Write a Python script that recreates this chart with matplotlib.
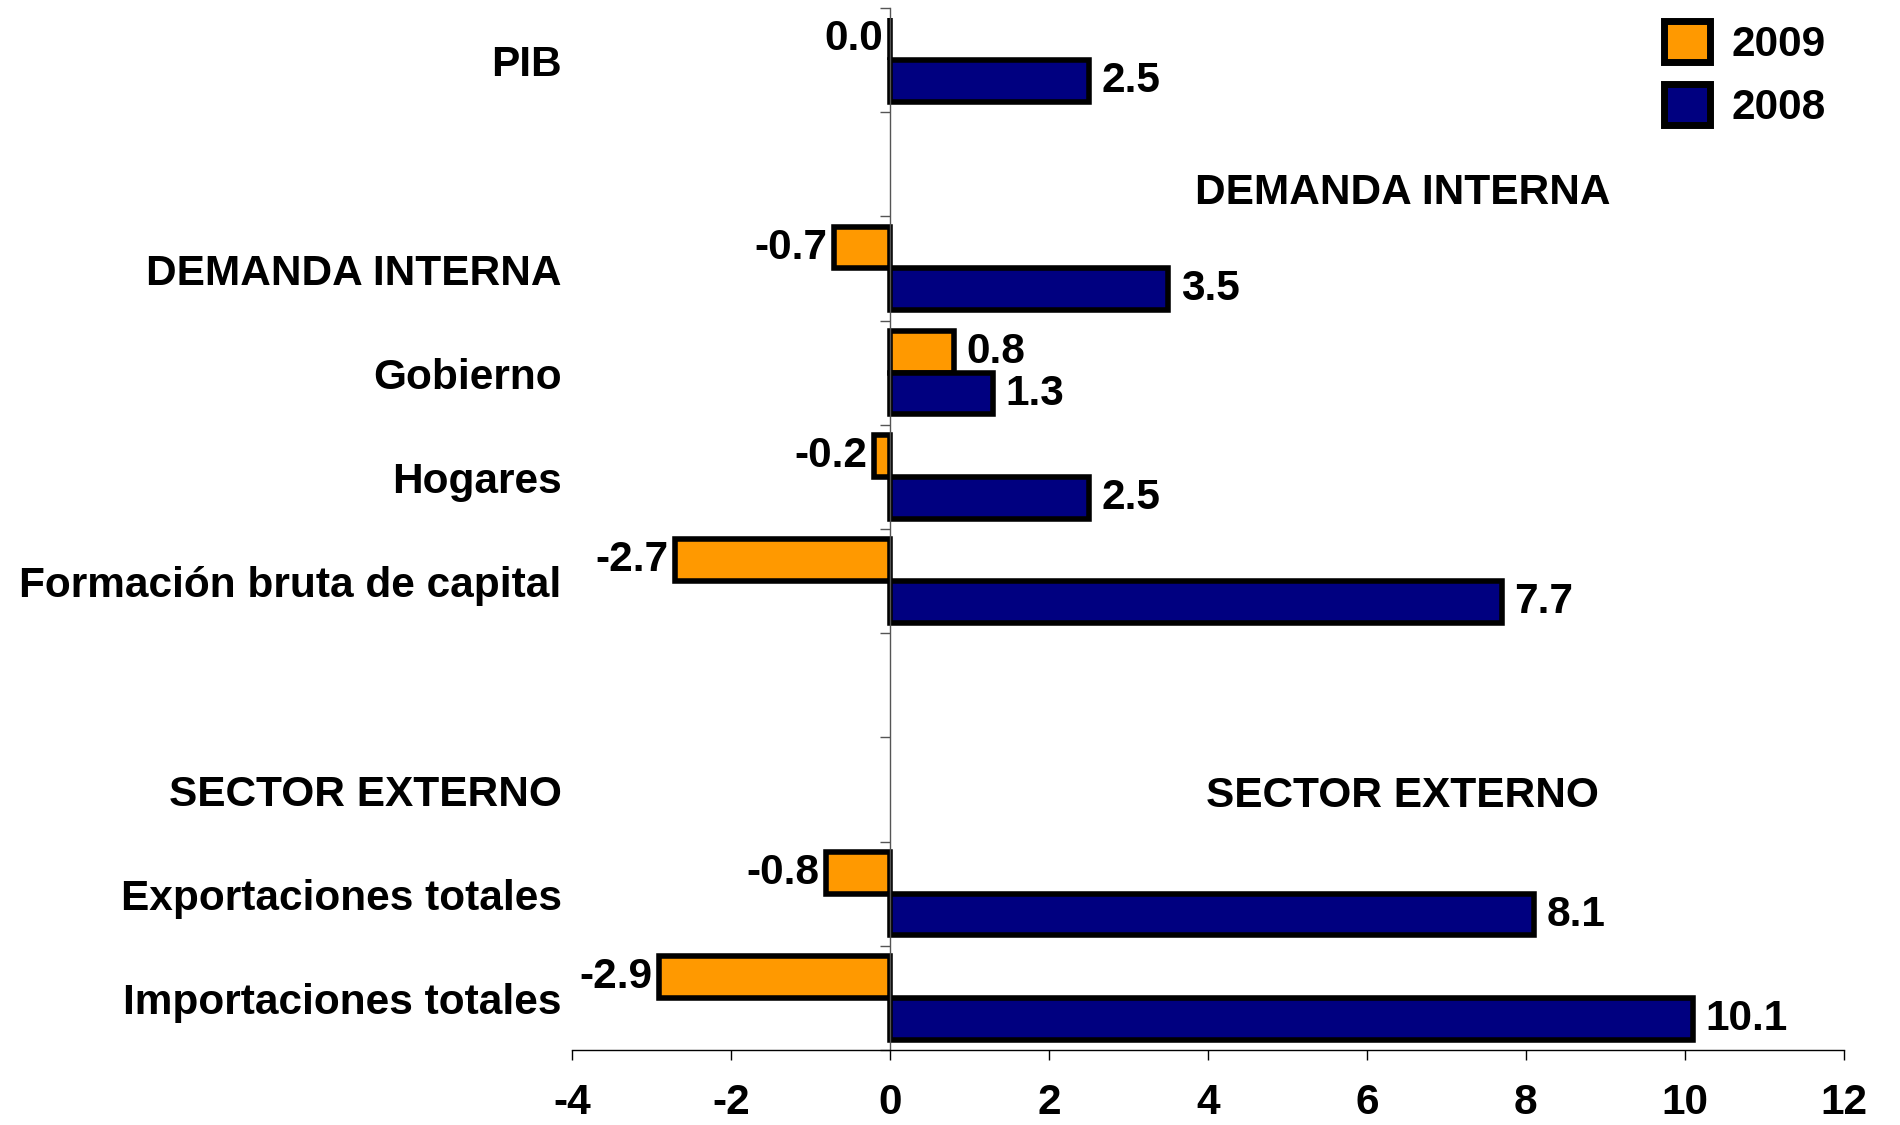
import numpy as np
import matplotlib
matplotlib.use('Agg')
import matplotlib.pyplot as plt
from matplotlib.transforms import blended_transform_factory

plt.rcParams['font.family'] = ['Liberation Sans', 'DejaVu Sans']
plt.rcParams['font.weight'] = 'bold'
plt.rcParams['axes.unicode_minus'] = False

# data
categories = ['PIB', '', 'DEMANDA INTERNA', 'Gobierno', 'Hogares',
              'Formación bruta de capital', '', 'SECTOR EXTERNO',
              'Exportaciones totales', 'Importaciones totales']
v2009 = [0.0, np.nan, -0.7, 0.8, -0.2, -2.7, np.nan, np.nan, -0.8, -2.9]
v2008 = [2.5, np.nan, 3.5, 1.3, 2.5, 7.7, np.nan, np.nan, 8.1, 10.1]
side_labels = ['DEMANDA INTERNA', 'SECTOR EXTERNO']
side_pos = [1.28, 7.06]

orange = '#FF9900'
navy = '#000080'
fs = 30.5

fig = plt.figure(figsize=(19, 11.25), dpi=100)
ax = fig.add_axes([0.301, 0.0667, 0.6695, 0.9262])

y = np.arange(len(categories))
h = 0.4
lw = 4
ax.barh(y - h / 2, v2009, height=h, color=orange, edgecolor='black', linewidth=lw, label='2009')
ax.barh(y + h / 2, v2008, height=h, color=navy, edgecolor='black', linewidth=lw, label='2008')

# value labels
for vals, off in [(v2009, -h / 2), (v2008, h / 2)]:
    for i, v in enumerate(vals):
        if np.isnan(v):
            continue
        if v > 0:
            ax.annotate(f'{v:.1f}', (v, i + off), xytext=(9, 0), textcoords='offset points',
                        ha='left', va='center', fontsize=fs, fontweight='bold')
        else:
            ax.annotate(f'{v:.1f}', (v, i + off), xytext=(-5, 0), textcoords='offset points',
                        ha='right', va='center', fontsize=fs, fontweight='bold')

ax.set_xlim(-4, 12)
ax.set_ylim(len(categories) - 0.5, -0.5)
ax.set_xticks(np.arange(-4, 13, 2))
ax.tick_params(axis='x', length=7, width=1, pad=17, labelsize=fs)
for t in ax.get_xticklabels():
    t.set_fontweight('bold')

ax.set_yticks(np.arange(len(categories) + 1) - 0.5)
ax.set_yticklabels([])
ax.tick_params(axis='y', length=7, width=1, color='#555555')

ax.spines['top'].set_visible(False)
ax.spines['right'].set_visible(False)
ax.spines['left'].set_position(('data', 0))
ax.spines['left'].set_color('#555555')
ax.spines['left'].set_linewidth(1)
ax.spines['bottom'].set_linewidth(1)

trans = blended_transform_factory(ax.transAxes, ax.transData)
for i, c in enumerate(categories):
    if c:
        ax.text(-0.008, i + 0.05, c, transform=trans, ha='right', va='center',
                fontsize=fs, fontweight='bold')

for lab, p in zip(side_labels, side_pos):
    ax.text(6.45, p, lab, ha='center', va='center', fontsize=fs, fontweight='bold')

leg = ax.legend(loc='upper right', bbox_to_anchor=(0.972, 1.0), bbox_transform=fig.transFigure,
                frameon=False, fontsize=fs, handlelength=1.1, handleheight=1.1,
                handletextpad=0.5, labelspacing=0.45, borderpad=0.0)
for p in leg.get_patches():
    p.set_linewidth(5)

fig.savefig('out.png', dpi=100)
